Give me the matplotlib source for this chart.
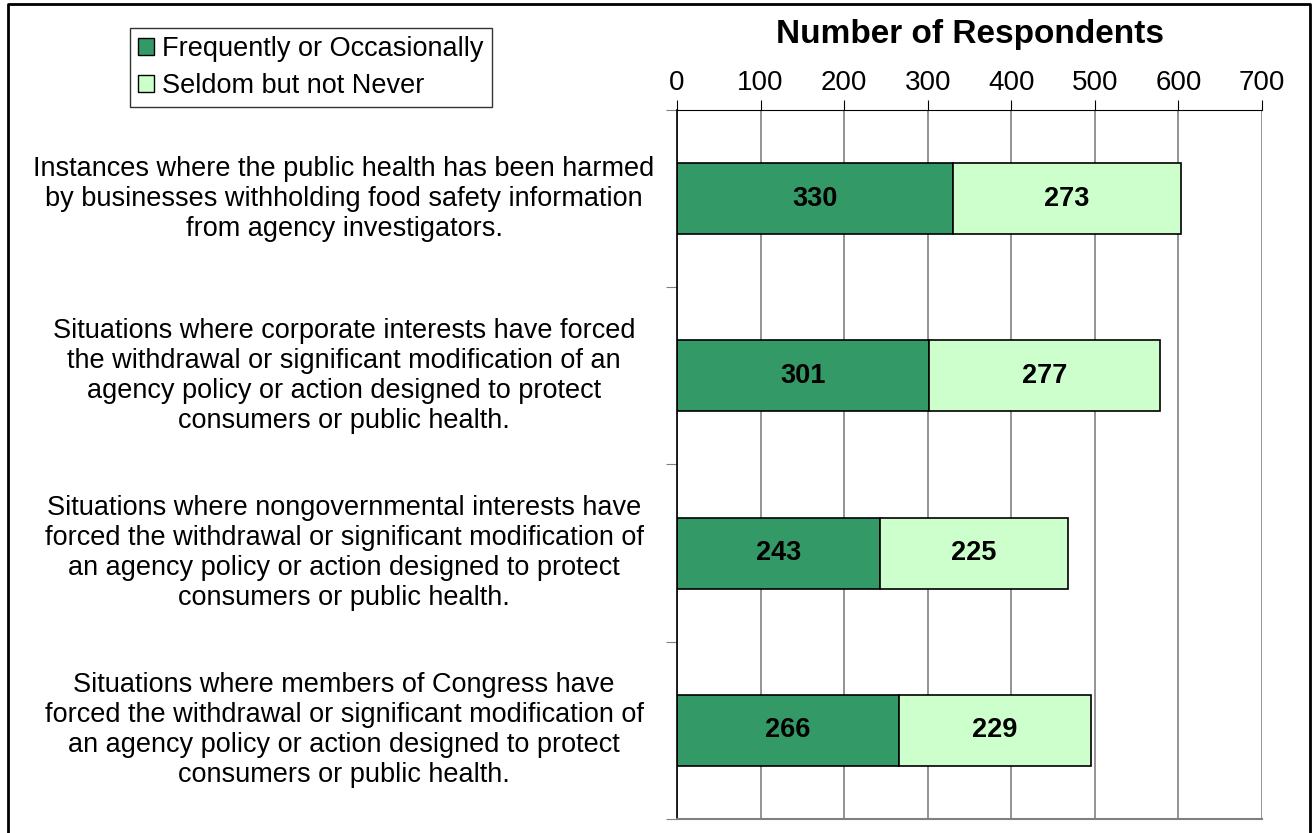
import matplotlib.pyplot as plt
from matplotlib.lines import Line2D
from matplotlib.patches import Patch
import matplotlib.transforms as mtransforms

plt.rcParams['font.family'] = ['Liberation Sans', 'DejaVu Sans']

categories = [
    "Instances where the public health has been harmed\nby businesses withholding food safety information\nfrom agency investigators.",
    "Situations where corporate interests have forced\nthe withdrawal or significant modification of an\nagency policy or action designed to protect\nconsumers or public health.",
    "Situations where nongovernmental interests have\nforced the withdrawal or significant modification of\nan agency policy or action designed to protect\nconsumers or public health.",
    "Situations where members of Congress have\nforced the withdrawal or significant modification of\nan agency policy or action designed to protect\nconsumers or public health.",
]
frequent = [330, 301, 243, 266]
seldom = [273, 277, 225, 229]
series_names = ["Frequently or Occasionally", "Seldom but not Never"]
x_ticks = [0, 100, 200, 300, 400, 500, 600, 700]

dark_green = '#339966'
light_green = '#CCFFCC'

fig = plt.figure(figsize=(13.13, 8.33), dpi=100)
ax = fig.add_axes([677/1313, 1 - 819/833, (1262 - 677)/1313, (819 - 110)/833])

ypos = list(range(len(categories)))
ax.barh(ypos, frequent, height=0.4, color=dark_green, edgecolor='black', linewidth=1.2)
ax.barh(ypos, seldom, left=frequent, height=0.4, color=light_green, edgecolor='black', linewidth=1.2)

for y, f, s in zip(ypos, frequent, seldom):
    ax.text(f / 2, y, str(f), ha='center', va='center', fontsize=19.5, fontweight='bold')
    ax.text(f + s / 2, y, str(s), ha='center', va='center', fontsize=19.5, fontweight='bold')

ax.set_xlim(0, 700)
ax.set_ylim(len(categories) - 0.5, -0.5)
ax.set_xticks(x_ticks)
ax.xaxis.tick_top()
ax.tick_params(axis='x', direction='out', length=7, labelsize=20, pad=3, color='black')
ax.grid(axis='x', color='#808080', linewidth=1.2)
ax.set_axisbelow(True)

ax.set_yticks([y - 0.5 for y in range(len(categories) + 1)])
ax.set_yticklabels([])
ax.tick_params(axis='y', direction='out', length=8, color='#808080')

ax.spines['right'].set_visible(False)
ax.spines['top'].set_color('black')
ax.spines['left'].set_color('black')
ax.spines['bottom'].set_color('#808080')
ax.spines['left'].set_linewidth(1.2)
ax.spines['bottom'].set_linewidth(1.5)

ax.set_title("Number of Respondents", fontsize=24, fontweight='bold', pad=48)

trans = mtransforms.blended_transform_factory(fig.transFigure, ax.transData)
for y, label in zip(ypos, categories):
    ax.text(344/1313, y, label, transform=trans, ha='center', va='center',
            multialignment='center', fontsize=19.5, linespacing=1.2)

handles = [Patch(facecolor=dark_green, edgecolor='black'),
           Patch(facecolor=light_green, edgecolor='black')]
leg = fig.legend(handles, series_names, loc='upper left',
                 bbox_to_anchor=(130/1313, 1 - 28/833), fontsize=19.5,
                 frameon=True, fancybox=False, handlelength=0.6, handleheight=0.6,
                 handletextpad=0.3, borderpad=0.3, labelspacing=0.4, borderaxespad=0)
leg.get_frame().set_edgecolor('black')
leg.get_frame().set_linewidth(1.0)

# outer border on three sides
bx0, bx1, by = 8/1313, 1310/1313, 1 - 4/833
fig.add_artist(Line2D([bx0, bx0, bx1, bx1], [0, by, by, 0],
                      transform=fig.transFigure, color='black', linewidth=2))

fig.savefig('out.png', dpi=100)
